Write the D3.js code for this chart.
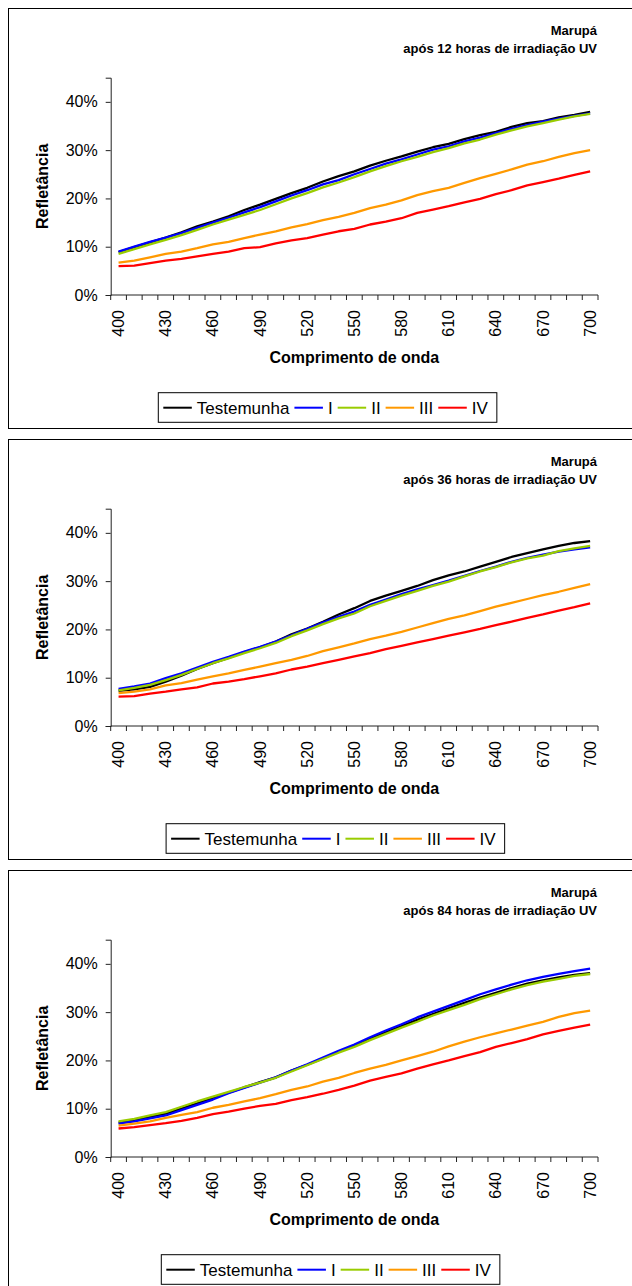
<!DOCTYPE html>
<html><head><meta charset="utf-8">
<script src="https://cdn.jsdelivr.net/npm/d3@7"></script>
<style>
body{margin:0;background:#fff}
svg{display:block}
text{font-family:"Liberation Sans",Arial,sans-serif;fill:#000}
</style>
</head><body>
<svg id="c" width="632" height="1286"></svg>
<script>
// ---------- data ----------
const wavelengths = ["400","410","420","430","440","450","460","470","480","490","500","510","520","530","540","550","560","570","580","590","600","610","620","630","640","650","660","670","680","690","700"];
const xTickLabels = ["400","430","460","490","520","550","580","610","640","670","700"];
const yTickValues = [0,10,20,30,40];
const seriesNames = ["Testemunha","I","II","III","IV"];
const seriesColors = ["#000000","#0000FF","#99CC00","#FF9900","#FF0000"];
const chartTitle = "Marupá";
const subtitles = ["após 12 horas de irradiação UV","após 36 horas de irradiação UV","após 84 horas de irradiação UV"];

// 12 horas
const h12_testemunha = [8.9,9.9,10.9,11.9,13.0,14.2,15.2,16.3,17.6,18.7,19.9,21.1,22.2,23.5,24.6,25.6,26.8,27.8,28.7,29.7,30.6,31.3,32.3,33.1,33.8,34.8,35.6,36.0,36.8,37.3,37.9];
const h12_I  = [9.0,10.0,11.0,11.9,12.8,13.9,15.0,16.0,17.1,18.2,19.4,20.6,21.7,22.9,23.8,25.0,26.1,27.2,28.1,29.1,30.1,30.8,31.8,32.6,33.5,34.4,35.2,35.9,36.5,37.1,37.6];
const h12_II = [8.5,9.5,10.5,11.4,12.4,13.5,14.6,15.6,16.6,17.6,18.8,20.0,21.1,22.3,23.3,24.4,25.6,26.7,27.7,28.6,29.6,30.4,31.4,32.2,33.2,34.1,34.9,35.6,36.3,37.0,37.5];
const h12_III= [6.7,7.1,7.8,8.5,9.0,9.7,10.5,11.0,11.8,12.5,13.2,14.0,14.7,15.5,16.2,17.0,18.0,18.7,19.6,20.7,21.5,22.2,23.2,24.2,25.1,26.0,27.0,27.7,28.6,29.4,30.0];
const h12_IV = [6.0,6.1,6.6,7.1,7.5,8.0,8.5,9.0,9.7,9.9,10.7,11.3,11.8,12.5,13.2,13.7,14.6,15.2,15.9,17.0,17.7,18.4,19.2,19.9,20.9,21.7,22.7,23.4,24.1,24.9,25.6];

// 36 horas
const h36_testemunha = [7.3,7.6,8.1,9.2,10.4,11.8,13.0,14.1,15.3,16.3,17.5,19.0,20.2,21.6,23.1,24.4,25.9,27.0,28.0,29.0,30.2,31.2,32.0,33.0,34.0,35.0,35.8,36.6,37.3,37.9,38.3];
const h36_I  = [7.7,8.2,8.8,9.9,10.9,12.1,13.3,14.3,15.4,16.4,17.5,18.8,20.1,21.4,22.6,23.7,25.1,26.2,27.3,28.3,29.2,30.1,31.1,32.1,33.0,34.0,34.8,35.5,36.1,36.6,37.0];
const h36_II = [7.4,7.9,8.5,9.5,10.6,11.8,13.0,14.0,15.1,16.1,17.2,18.6,19.8,21.1,22.3,23.3,24.8,25.9,27.0,28.0,29.0,29.9,31.0,32.0,32.9,33.9,34.7,35.3,36.2,36.8,37.3];
const h36_III= [6.8,7.1,7.6,8.4,8.9,9.6,10.3,10.9,11.6,12.3,13.0,13.7,14.5,15.5,16.3,17.1,18.0,18.7,19.5,20.4,21.3,22.2,22.9,23.8,24.7,25.5,26.3,27.1,27.8,28.6,29.4];
const h36_IV = [6.1,6.2,6.7,7.1,7.6,8.0,8.8,9.2,9.7,10.3,10.9,11.7,12.3,13.0,13.7,14.4,15.1,15.9,16.6,17.3,18.0,18.7,19.4,20.1,20.9,21.6,22.4,23.1,23.9,24.6,25.4];

// 84 horas
const h84_testemunha = [7.1,7.6,8.3,9.0,10.0,11.1,12.2,13.3,14.4,15.5,16.5,17.9,19.1,20.4,21.8,23.1,24.5,25.8,27.1,28.4,29.6,30.8,31.9,33.0,34.0,35.0,35.9,36.6,37.2,37.7,38.1];
const h84_I  = [6.9,7.4,8.0,8.6,9.7,10.8,11.9,13.2,14.3,15.4,16.5,17.9,19.2,20.6,22.0,23.3,24.8,26.2,27.5,28.9,30.1,31.3,32.5,33.7,34.7,35.7,36.6,37.3,37.9,38.5,39.0];
const h84_II = [7.4,7.9,8.6,9.3,10.4,11.5,12.5,13.5,14.5,15.4,16.4,17.7,19.0,20.3,21.6,22.8,24.2,25.5,26.8,28.0,29.3,30.4,31.5,32.7,33.7,34.7,35.6,36.3,36.9,37.5,37.9];
const h84_III= [6.5,6.9,7.4,8.1,8.7,9.3,10.2,10.8,11.5,12.2,13.0,13.9,14.6,15.6,16.4,17.4,18.3,19.1,20.0,20.9,21.8,22.9,23.9,24.8,25.6,26.4,27.2,28.0,29.0,29.8,30.3];
const h84_IV = [5.9,6.2,6.6,7.0,7.5,8.1,8.9,9.4,10.0,10.6,11.0,11.8,12.4,13.1,13.9,14.8,15.8,16.6,17.3,18.3,19.2,20.0,20.9,21.7,22.8,23.6,24.4,25.4,26.1,26.8,27.4];

const panelSeries = [
  [h12_testemunha,h12_I,h12_II,h12_III,h12_IV],
  [h36_testemunha,h36_I,h36_II,h36_III,h36_IV],
  [h84_testemunha,h84_I,h84_II,h84_III,h84_IV]
];

// ---------- layout ----------
const panelOffsets = [0, 431, 862];
const legendLeft = [158.3, 166.1, 161.3];
const plot = {left:110.7, right:598, top:77.7, bottom:295};

const svg = d3.select("#c");
const x = d3.scaleBand().domain(wavelengths).range([plot.left, plot.right]).padding(0);
const y = d3.scaleLinear().domain([0,45]).range([plot.bottom, plot.top]);

panelSeries.forEach((series, p) => {
  const g = svg.append("g").attr("transform", `translate(0,${panelOffsets[p]})`);

  // frame
  g.append("rect").attr("x",8.5).attr("y",8.5).attr("width",700).attr("height",420)
    .attr("fill","#fff").attr("stroke","#000").attr("stroke-width",1);

  // titles
  g.append("text").attr("x",597).attr("y",35).attr("text-anchor","end")
    .attr("font-size","13px").attr("font-weight","bold").text(chartTitle);
  g.append("text").attr("x",597).attr("y",53).attr("text-anchor","end")
    .attr("font-size","13px").attr("font-weight","bold").text(subtitles[p]);

  // y axis
  const yAxis = d3.axisLeft(y).tickValues(yTickValues).tickSize(5).tickPadding(8)
    .tickFormat(d => d + "%");
  const ya = g.append("g").attr("transform",`translate(${plot.left},0)`).call(yAxis);
  ya.select(".domain").attr("stroke","#222");
  ya.selectAll(".tick line").attr("stroke","#222");
  ya.selectAll("text").attr("font-size","16px").attr("font-family","Liberation Sans, Arial, sans-serif").attr("fill","#000");

  // x axis line
  g.append("line").attr("x1",plot.left).attr("x2",plot.right)
    .attr("y1",y(0)).attr("y2",y(0)).attr("stroke","#222");
  // tick marks at category boundaries
  const bounds = wavelengths.map(w => x(w)).concat([x(wavelengths[wavelengths.length-1]) + x.bandwidth()]);
  g.selectAll(".xt").data(bounds).enter().append("line")
    .attr("x1",d=>d).attr("x2",d=>d).attr("y1",y(0)).attr("y2",y(0)+5).attr("stroke","#222");
  // x labels
  g.selectAll(".xl").data(xTickLabels).enter().append("text")
    .attr("transform", d => `translate(${x(d)+x.bandwidth()/2},${y(0)+15}) rotate(-90)`)
    .attr("text-anchor","end").attr("dy","0.35em").attr("font-size","16px").text(d=>d);

  // axis titles
  g.append("text").attr("x",(plot.left+plot.right)/2).attr("y",363).attr("text-anchor","middle")
    .attr("font-size","16px").attr("font-weight","bold").text("Comprimento de onda");
  g.append("text").attr("transform",`translate(48,${(plot.top+plot.bottom)/2}) rotate(-90)`)
    .attr("text-anchor","middle").attr("font-size","16px").attr("font-weight","bold").text("Refletância");

  // lines
  const line = d3.line().x((d,i)=>x(wavelengths[i])+x.bandwidth()/2).y(d=>y(d));
  series.forEach((s, k) => {
    g.append("path").datum(s).attr("d",line).attr("fill","none")
      .attr("stroke",seriesColors[k]).attr("stroke-width",2.3).attr("stroke-linejoin","round");
  });

  // legend
  const lg = g.append("g");
  const box = lg.append("rect").attr("y",392.7).attr("height",29.6).attr("fill","#fff")
    .attr("stroke","#000").attr("stroke-width",1);
  let cx = legendLeft[p] + 5;
  let lastEnd = cx;
  const ly = 407.7;
  seriesNames.forEach((name, k) => {
    lg.append("line").attr("x1",cx).attr("x2",cx+28.5).attr("y1",ly).attr("y2",ly)
      .attr("stroke",seriesColors[k]).attr("stroke-width",2);
    const t = lg.append("text").attr("x",cx+33.5).attr("y",ly).attr("dy","0.35em")
      .attr("font-size","17px").text(name);
    lastEnd = cx + 33.5 + t.node().getComputedTextLength();
    cx = lastEnd + 5;
  });
  box.attr("x",legendLeft[p]).attr("width", lastEnd + 9 - legendLeft[p]);
});
</script>
</body></html>
